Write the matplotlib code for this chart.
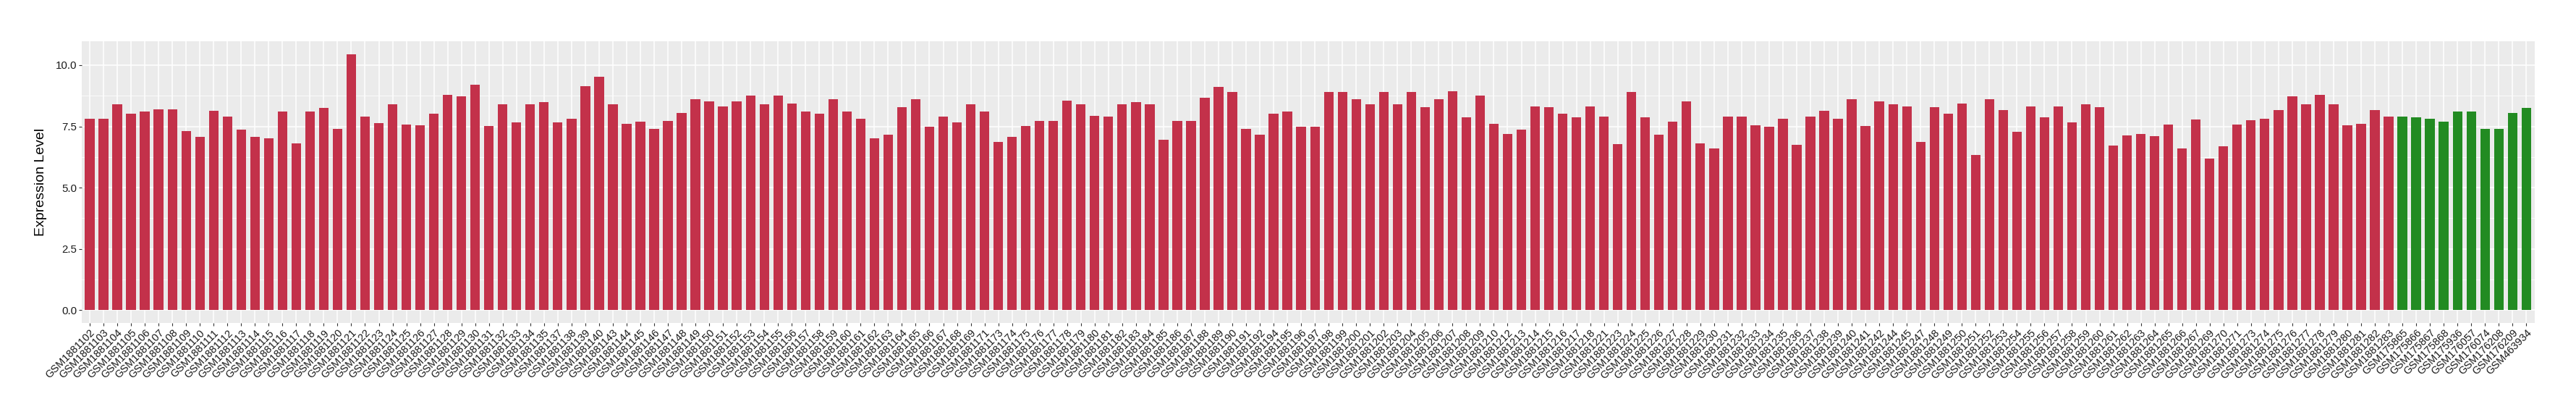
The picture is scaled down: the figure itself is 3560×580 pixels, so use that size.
import matplotlib
matplotlib.use("Agg")
import matplotlib.pyplot as plt
from matplotlib.ticker import MultipleLocator

plt.rcParams['font.family'] = ['Liberation Sans', 'DejaVu Sans']

# sample ids (GSM1881xxx) for the first group
red_ids = [102, 103, 104, 105, 106, 107, 108, 109, 110, 111, 112, 113, 114, 115, 116, 117,
           118, 119, 120, 121, 122, 123, 124, 125, 126, 127, 128, 129, 130, 131, 132, 133,
           134, 135, 137, 138, 139, 140, 143, 144, 145, 146, 147, 148, 149, 150, 151, 152,
           153, 154, 155, 156, 157, 158, 159, 160, 161, 162, 163, 164, 165, 166, 167, 168,
           169, 171, 173, 174, 175, 176, 177, 178, 179, 180, 181, 182, 183, 184, 185, 186,
           187, 188, 189, 190, 191, 192, 194, 195, 196, 197, 198, 199, 200, 201, 202, 203,
           204, 205, 206, 207, 208, 209, 210, 212, 213, 214, 215, 216, 217, 218, 221, 223,
           224, 225, 226, 227, 228, 229, 230, 231, 232, 233, 234, 235, 236, 237, 238, 239,
           240, 241, 242, 244, 245, 247, 248, 249, 250, 251, 252, 253, 254, 255, 256, 257,
           258, 259, 260, 261, 262, 263, 264, 265, 266, 267, 269, 270, 271, 273, 274, 275,
           276, 277, 278, 279, 280, 281, 282, 283]
red_values = [7.82, 7.80, 8.41, 8.03, 8.10, 8.20, 8.20, 7.32, 7.06, 8.15, 7.89, 7.36, 7.06, 7.01,
              8.12, 6.82, 8.10, 8.24, 7.41, 10.45, 7.91, 7.62, 8.41, 7.56, 7.53,
              8.03, 8.80, 8.74, 9.21, 7.51, 8.39, 7.65, 8.39, 8.48, 7.65, 7.80, 9.15, 9.53,
              8.39, 7.60, 7.68, 7.41, 7.71, 8.06, 8.62, 8.53, 8.32, 8.51, 8.77, 8.41, 8.77,
              8.44, 8.12, 8.01, 8.60, 8.12,
              7.80, 7.01, 7.15, 8.27, 8.60, 7.48, 7.91, 7.65, 8.39, 8.10, 6.86, 7.06, 7.51,
              7.71, 7.71, 8.56, 8.39, 7.94, 7.91, 8.39, 8.48, 8.41, 6.94, 7.71, 7.71, 8.68,
              9.10, 8.89, 7.39, 7.15,
              8.01, 8.12, 7.48, 7.48, 8.89, 8.91, 8.60, 8.39, 8.89, 8.41, 8.91, 8.27, 8.60,
              8.94, 7.86, 8.77, 7.60, 7.18, 7.36, 8.32, 8.27, 8.01, 7.86, 8.32, 7.91, 6.77,
              8.91, 7.86, 7.15, 7.68, 8.51,
              6.80, 6.59, 7.91, 7.89, 7.53, 7.48, 7.82, 6.74, 7.89, 8.15, 7.80, 8.60, 7.51,
              8.53, 8.39, 8.30, 6.86, 8.27, 8.03, 8.44, 6.32, 8.60, 8.18, 7.27, 8.30, 7.86,
              8.30, 7.65, 8.39, 8.27,
              6.71, 7.12, 7.18, 7.09, 7.56, 6.59, 7.77, 6.18, 6.68, 7.56, 7.74, 7.82, 8.18,
              8.74, 8.39, 8.80, 8.41, 7.53, 7.60, 8.18, 7.89]

green_labels = ['GSM175865', 'GSM175866', 'GSM175867', 'GSM175868', 'GSM175936',
                'GSM176057', 'GSM176074', 'GSM176208', 'GSM176209', 'GSM463934']
green_values = [7.91, 7.86, 7.80, 7.68, 8.12, 8.10, 7.39, 7.41, 8.06, 8.24]

red_color = '#C3314A'
green_color = '#228B22'

labels = ['GSM1881%d' % i for i in red_ids] + green_labels
values = red_values + green_values
colors = [red_color] * len(red_values) + [green_color] * len(green_values)
x = list(range(len(labels)))

W, H = 3560, 580
fig = plt.figure(figsize=(W / 100, H / 100), dpi=100)
ax = fig.add_axes([112.6 / W, (H - 446) / H, (3502.7 - 112.6) / W, (446 - 57) / H])

ax.set_facecolor('#EBEBEB')
ax.bar(x, values, width=0.7, color=colors, zorder=3)

ax.set_xlim(-0.6, len(labels) - 0.4)
ax.set_ylim(-0.5225, 10.9725)
ax.yaxis.set_major_locator(MultipleLocator(2.5))
ax.yaxis.set_minor_locator(MultipleLocator(1.25))
ax.set_yticklabels([])
ax.set_yticks([0, 2.5, 5, 7.5, 10])
ax.set_yticklabels(['0.0', '2.5', '5.0', '7.5', '10.0'])

ax.set_xticks(x)
ax.set_xticklabels(labels, rotation=45, ha='right', va='top', rotation_mode='anchor',
                   fontsize=10.5, color='#1A1A1A')

ax.grid(which='major', color='white', linewidth=1.1, zorder=0)
ax.grid(which='minor', axis='y', color='white', linewidth=0.55, zorder=0)
ax.set_axisbelow(True)
for s in ax.spines.values():
    s.set_visible(False)

ax.tick_params(axis='both', which='major', length=2.7, width=0.8, color='#333333')
ax.tick_params(axis='y', which='minor', length=0)
ax.tick_params(axis='y', labelsize=10.8, labelcolor='#1A1A1A', pad=2)
ax.tick_params(axis='x', pad=2)

ax.set_ylabel('Expression Level', fontsize=14, color='black', labelpad=8)

fig.savefig('out.png', dpi=100, facecolor='white')
